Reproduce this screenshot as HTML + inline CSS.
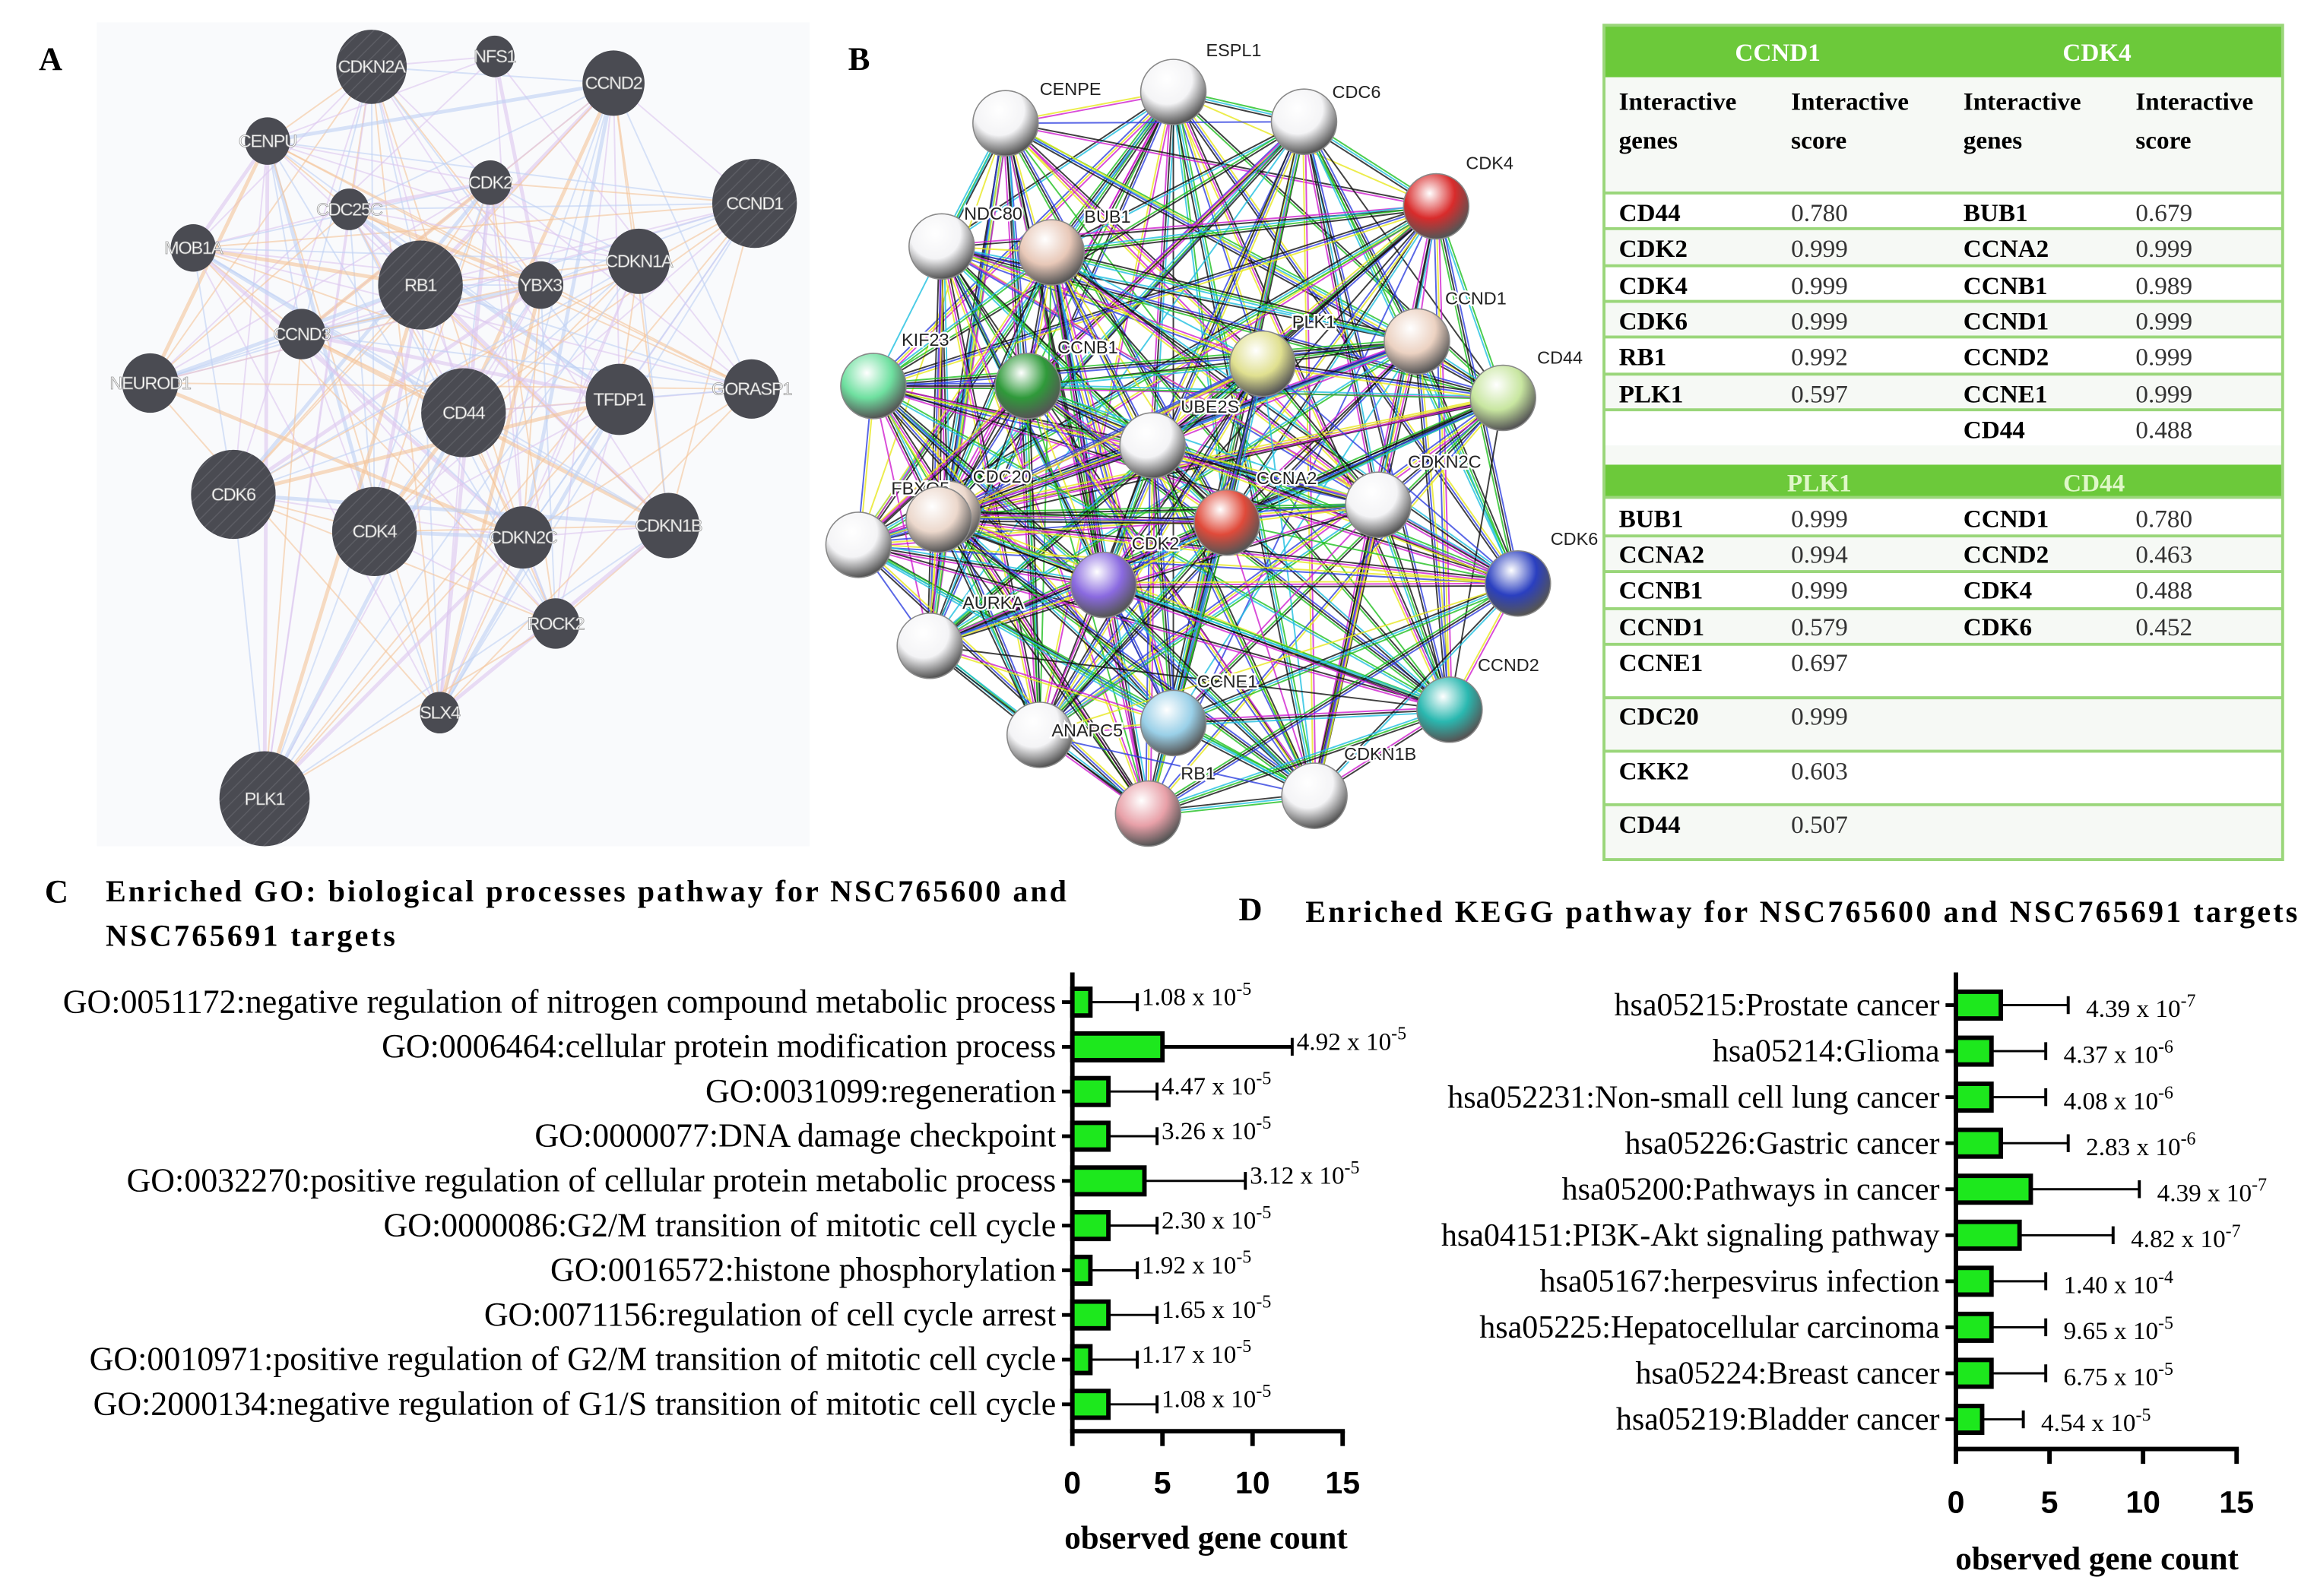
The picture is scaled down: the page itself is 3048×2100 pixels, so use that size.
<!DOCTYPE html>
<html><head><meta charset="utf-8"><style>
html,body{margin:0;padding:0;background:#fff;}
svg{display:block;}
text{font-family:"Liberation Serif",serif;}
.sans{font-family:"Liberation Sans",sans-serif;}
</style></head><body>
<svg id="fig" width="3048" height="2100" viewBox="0 0 1560 1075" xmlns="http://www.w3.org/2000/svg">
<defs>
<pattern id="hatch" width="6" height="6" patternUnits="userSpaceOnUse" patternTransform="rotate(45)"><rect width="6" height="6" fill="#4a4b52"/><line x1="0" y1="0" x2="0" y2="6" stroke="#5c5d64" stroke-width="1.5"/></pattern>
</defs>
<rect width="1560" height="1075" fill="#fff"/>

<g id="panelA">
<text x="26" y="47" font-size="22" font-weight="bold">A</text>
<rect x="65" y="15" width="480" height="555" fill="#f9fafc"/>
<g id="aEdges"></g><g id="aNodes"></g>
</g>

<g id="panelB">
<text x="571" y="47" font-size="22" font-weight="bold">B</text>
<g id="bEdges"></g><g id="bNodes"></g>
</g>

<g id="table"></g>

<g id="panelC">
<text x="30" y="608" font-size="22" font-weight="bold">C</text>
<text x="71" y="607" font-size="20.5" font-weight="bold" textLength="647" lengthAdjust="spacing">Enriched GO: biological processes pathway for NSC765600 and</text>
<text x="71" y="637" font-size="20.5" font-weight="bold" textLength="195" lengthAdjust="spacing">NSC765691 targets</text>
<g id="cChart"></g>
<text x="812" y="1043" font-size="22" font-weight="bold" text-anchor="middle">observed gene count</text>
</g>

<g id="panelD">
<text x="834" y="620" font-size="22" font-weight="bold">D</text>
<text x="879" y="621" font-size="20.5" font-weight="bold" textLength="668" lengthAdjust="spacing">Enriched KEGG pathway for NSC765600 and NSC765691 targets</text>
<g id="dChart"></g>
<text x="1412" y="1057" font-size="22" font-weight="bold" text-anchor="middle">observed gene count</text>
</g>
</svg>
<script>
// ---------- Chart C data ----------
const cCategories = ["GO:0051172:negative regulation of nitrogen compound metabolic process","GO:0006464:cellular protein modification process","GO:0031099:regeneration","GO:0000077:DNA damage checkpoint","GO:0032270:positive regulation of cellular protein metabolic process","GO:0000086:G2/M transition of mitotic cell cycle","GO:0016572:histone phosphorylation","GO:0071156:regulation of cell cycle arrest","GO:0010971:positive regulation of G2/M transition of mitotic cell cycle","GO:2000134:negative regulation of G1/S transition of mitotic cell cycle"];
const cCounts = [1, 5, 2, 2, 4, 2, 1, 2, 1, 2];
const cErrors = [2.6, 7.2, 2.7, 2.7, 5.6, 2.7, 2.6, 2.7, 2.6, 2.7];
const cPvalMant = ["1.08","4.92","4.47","3.26","3.12","2.30","1.92","1.65","1.17","1.08"];
const cPvalExp = ["-5","-5","-5","-5","-5","-5","-5","-5","-5","-5"];
const cTicks = [0, 5, 10, 15];
// ---------- Chart D data ----------
const dCategories = ["hsa05215:Prostate cancer","hsa05214:Glioma","hsa052231:Non-small cell lung cancer","hsa05226:Gastric cancer","hsa05200:Pathways in cancer","hsa04151:PI3K-Akt signaling pathway","hsa05167:herpesvirus infection","hsa05225:Hepatocellular carcinoma","hsa05224:Breast cancer","hsa05219:Bladder cancer"];
const dCounts = [2.4, 1.9, 1.9, 2.4, 4, 3.4, 1.9, 1.9, 1.9, 1.4];
const dErrors = [3.6, 2.9, 2.9, 3.6, 5.8, 5.0, 2.9, 2.9, 2.9, 2.2];
const dPvalMant = ["4.39","4.37","4.08","2.83","4.39","4.82","1.40","9.65","6.75","4.54"];
const dPvalExp = ["-7","-6","-6","-6","-7","-7","-4","-5","-5","-5"];
const dTicks = [0, 5, 10, 15];

const NS = "http://www.w3.org/2000/svg";
function mk(tag, attrs, parent){const e=document.createElementNS(NS,tag);for(const k in attrs)e.setAttribute(k,attrs[k]);if(parent)parent.appendChild(e);return e;}

function drawChart(gid, cfg){
  const g=document.getElementById(gid);
  const xs=v=>cfg.x0+(v-0)*(cfg.x15-cfg.x0)/15;
  const ys=i=>cfg.y0+i*cfg.step;
  let ax=mk('line',{x1:cfg.x0,y1:cfg.yTop,x2:cfg.x0,y2:cfg.axisY,stroke:'#000','stroke-width':3},g);
  
  
  let bx=mk('line',{x1:cfg.x0-1.5,y1:cfg.axisY,x2:xs(15)+1.5,y2:cfg.axisY,stroke:'#000','stroke-width':3},g);
  
  
  cfg.ticks.forEach(t=>{
    let tl=mk('line',{x1:xs(t),y1:cfg.axisY,x2:xs(t),y2:cfg.axisY+10,stroke:'#000','stroke-width':3},g);
    
    
    let tt=mk('text',{x:xs(t),y:cfg.axisY+cfg.tickDy,'font-size':21,'font-weight':'bold','text-anchor':'middle',class:'sans'},g);
    tt.textContent=t;
    
    
  });
  cfg.cats.forEach((c,i)=>{
    const y=ys(i);
    let yt=mk('line',{x1:cfg.x0-7,y1:y,x2:cfg.x0,y2:y,stroke:'#000','stroke-width':2.5},g);
    
    
    let lab=mk('text',{x:cfg.x0-11,y:y+7,'font-size':cfg.fs,'text-anchor':'end'},g);
    lab.textContent=c;
    
    
    const end=xs(cfg.counts[i]+cfg.errs[i]);
    let el=mk('line',{x1:xs(cfg.counts[i]),y1:y,x2:end,y2:y,stroke:'#000','stroke-width':cfg.counts[i]>=4.5?2.5:1.5},g);
    
    
    let ec=mk('line',{x1:end,y1:y-6,x2:end,y2:y+6,stroke:'#000','stroke-width':2},g);
    
    
    let b=mk('rect',{x:cfg.x0,y:y-9,width:xs(cfg.counts[i])-cfg.x0,height:18,fill:'#1de81d',stroke:'#000','stroke-width':3},g);
    
    
    let pv=mk('text',{x:end+cfg.pdx,y:y+cfg.pdy,'font-size':cfg.pfs},g);
    
    
    pv.textContent=cfg.mant[i]+' x 10';
    const sp=mk('tspan',{dy:-7,'font-size':cfg.pfs*0.72},pv); sp.textContent=cfg.exps[i];
  });
}
drawChart('cChart',{p:'c',x0:722,x15:904,yTop:655,axisY:964,y0:675,step:30.1,ticks:cTicks,tickDy:42,cats:cCategories,counts:cCounts,errs:cErrors,mant:cPvalMant,exps:cPvalExp,fs:22.5,pfs:17,pdx:3,pdy:2});
drawChart('dChart',{p:'d',x0:1317,x15:1506,yTop:655,axisY:976,y0:677,step:31.0,ticks:dTicks,tickDy:43,cats:dCategories,counts:dCounts,errs:dErrors,mant:dPvalMant,exps:dPvalExp,fs:21.5,pfs:17,pdx:12,pdy:8});

// ---------- Panel A network ----------
const aNodes=[["CDKN2A",250,45,25],["NFS1",333,38,14],["CCND2",413,56,22],["CENPU",180,95,16],["CDK2",330,123,15],["CCND1",508,137,30],["CDC25C",235,141,14],["MOB1A",130,167,16],["RB1",283,192,30],["YBX3",364,192,16],["CDKN1A",430,176,22],["CCND3",203,225,17],["NEUROD1",101,258,20],["CD44",312,278,30],["TFDP1",417,269,24],["GORASP1",506,262,20],["CDK6",157,333,30],["CDK4",252,358,30],["CDKN2C",352,362,21],["CDKN1B",450,354,22],["ROCK2",374,420,17],["SLX4",296,480,14],["PLK1",178,538,32]];
const aE=document.getElementById('aEdges'), aN=document.getElementById('aNodes');
const aCols=['#f5c59a','#ddc8f0','#c0d2f4'];
let k=0;
for(let i=0;i<aNodes.length;i++)for(let j=i+1;j<aNodes.length;j++){
  k++; if((i*7+j*3)%5===0) continue;
  if(['SLX4','ROCK2','NFS1','GORASP1','NEUROD1'].includes(aNodes[i][0])&&k%3) continue;
  const l=mk('line',{x1:aNodes[i][1],y1:aNodes[i][2],x2:aNodes[j][1],y2:aNodes[j][2],stroke:aCols[(i+j)%3],'stroke-width':((i+j)%5===0)?2.5:1,opacity:0.6},aE);
  
  
}
aNodes.forEach(n=>{
  const c=mk('ellipse',{cx:n[1],cy:n[2],rx:n[3]*0.95,ry:n[3],fill:n[3]>=25?'url(#hatch)':'#4a4b52'},aN);
  
  
  const t=mk('text',{x:n[1],y:n[2]+4,'font-size':12,'text-anchor':'middle',fill:'#fff',stroke:'#999','stroke-width':0.4,class:'sans','letter-spacing':'-0.6'},aN);
  t.textContent=n[0];
  
  
});

// ---------- Panel B network ----------
const bNodes=[["ESPL1",790,62,"#f4f4f6",812,38],["CENPE",677,83,"#f4f4f6",700,64],["CDC6",878,82,"#f4f4f6",897,66],["CDK4",967,139,"#d92b2b",987,114],["NDC80",634,166,"#f4f4f6",649,148],["BUB1",708,170,"#e8c8b8",730,150],["CCND1",954,230,"#ecd2c2",973,205],["CD44",1012,268,"#c8e6a0",1035,245],["KIF23",588,260,"#6fe0a0",607,233],["CCNB1",692,260,"#2f9a3a",712,238],["PLK1",850,245,"#e0e090",870,221],["UBE2S",776,300,"#f4f4f6",795,278],["CDKN2C",928,340,"#f4f4f6",948,315],["CDC20",638,346,"#ecd8cc",655,325],["FBXO5",578,367,"#f4f4f6",600,333],["FBX",632,350,"#ecd8cc",0,0],["CCNA2",826,352,"#e04a3a",846,326],["CDK6",1022,393,"#2a3fc0",1044,367],["CDK2",743,394,"#8a6ae0",762,370],["AURKA",626,435,"#f4f4f6",648,410],["CCND2",976,478,"#2ab8b0",995,452],["CCNE1",790,487,"#9ad0e8",806,463],["ANAPC5",700,495,"#f4f4f6",708,496],["CDKN1B",885,536,"#f4f4f6",905,512],["RB1",773,548,"#e8a0a8",795,525]];
const bE=document.getElementById('bEdges'), bN=document.getElementById('bNodes');
const bCols=['#111','#d020d0','#20c020','#e8e820','#20c0e0','#3040e0','#111'];
for(let i=0;i<bNodes.length;i++)for(let j=i+1;j<bNodes.length;j++){
  if((i*5+j*11)%6===0) continue;
  const dx=bNodes[j][1]-bNodes[i][1], dy=bNodes[j][2]-bNodes[i][2], L=Math.hypot(dx,dy), nx=-dy/L, ny=dx/L;
  const m=1+((i+j)%3);
  for(let q=0;q<m;q++){
    const off=(q-(m-1)/2)*1.6, col=bCols[(i*3+j+q*2)%bCols.length];
    const l=mk('line',{x1:bNodes[i][1]+nx*off,y1:bNodes[i][2]+ny*off,x2:bNodes[j][1]+nx*off,y2:bNodes[j][2]+ny*off,stroke:col,'stroke-width':1,opacity:0.8},bE);
    
    
  }
}
bNodes.forEach((n,i)=>{
  if(n[0]==="FBX") return;
  const gid='bg'+i;
  const gr=mk('radialGradient',{id:gid,cx:'40%',cy:'30%',r:'70%'},document.querySelector('defs'));
  mk('stop',{offset:'0','stop-color':'#ffffff'},gr);
  mk('stop',{offset:'0.55','stop-color':n[3]},gr);
  mk('stop',{offset:'1','stop-color':'#555'},gr);
  const c=mk('circle',{cx:n[1],cy:n[2],r:22,fill:'url(#'+gid+')',stroke:'#888','stroke-width':0.8},bN);
  
  
  const t=mk('text',{x:n[4],y:n[5],'font-size':12,fill:'#222',class:'sans',stroke:'#fff','stroke-width':2.5,'paint-order':'stroke'},bN);
  t.textContent=n[0];
  
  
});
(function(){const c=mk('circle',{cx:632,cy:350,r:22,fill:'url(#bg13)',stroke:'#888','stroke-width':0.8},bN);

})();

// ---------- Table ----------
const tG=document.getElementById('table');
const green='#6cc93a', lineG='#9ad67a';
function rect(x,y,w,h,f,name){const r=mk('rect',{x:x,y:y,width:w,height:h,fill:f},tG);return r;}
function txt(x,y,s,opts,name){const t=mk('text',Object.assign({x:x,y:y,'font-size':17},opts||{}),tG);t.textContent=s;return t;}
rect(1080,17,457,562,'#f6f9f5','table-background');
rect(1080,17,457,35,green,'table-header-top');
txt(1197,41,'CCND1',{fill:'#fff','font-weight':'bold','text-anchor':'middle'},'header-ccnd1');
txt(1412,41,'CDK4',{fill:'#fff','font-weight':'bold','text-anchor':'middle'},'header-cdk4');
[['Interactive',1090],['Interactive',1206],['Interactive',1322],['Interactive',1438]].forEach(a=>txt(a[1],74,a[0],{'font-weight':'bold'},'column-header'));
[['genes',1090],['score',1206],['genes',1322],['score',1438]].forEach(a=>txt(a[1],100,a[0],{'font-weight':'bold'},'column-header'));
const t1g=["CD44","CDK2","CDK4","CDK6","RB1","PLK1",""], t1s=["0.780","0.999","0.999","0.999","0.992","0.597",""];
const t2g=["BUB1","CCNA2","CCNB1","CCND1","CCND2","CCNE1","CD44"], t2s=["0.679","0.999","0.989","0.999","0.999","0.999","0.488"];
const rowsY=[143,167,192,216,240,265,289];
rowsY.forEach((y,i)=>{
  if(i%2===0) rect(1081,y-13,455,24,'#ffffff','table-row-bg');
  mk('line',{x1:1080,y1:y-13,x2:1537,y2:y-13,stroke:lineG,'stroke-width':2},tG);
  txt(1090,y+6,t1g[i],{'font-weight':'bold'},'gene-name');
  txt(1206,y+6,t1s[i],{fill:'#333'},'score');
  txt(1322,y+6,t2g[i],{'font-weight':'bold'},'gene-name');
  txt(1438,y+6,t2s[i],{fill:'#333'},'score');
});
rect(1080,313,457,22,green,'table-header-bottom');
txt(1225,331,'PLK1',{fill:'#dff7c8','font-weight':'bold','text-anchor':'middle'},'header-plk1');
txt(1410,331,'CD44',{fill:'#dff7c8','font-weight':'bold','text-anchor':'middle'},'header-cd44');
const t3g=["BUB1","CCNA2","CCNB1","CCND1","CCNE1","CDC20","CKK2","CD44"], t3s=["0.999","0.994","0.999","0.579","0.697","0.999","0.603","0.507"];
const t4g=["CCND1","CCND2","CDK4","CDK6"], t4s=["0.780","0.463","0.488","0.452"];
const r2Y=[349,373,397,422,446,482,519,555], r2Top=[335,361,385,410,434,470,506,542,579];
r2Y.forEach((y,i)=>{
  if(i%2===0) rect(1081,r2Top[i],455,r2Top[i+1]-r2Top[i],'#ffffff','table-row-bg');
  mk('line',{x1:1080,y1:r2Top[i],x2:1537,y2:r2Top[i],stroke:lineG,'stroke-width':2},tG);
  txt(1090,y+6,t3g[i],{'font-weight':'bold'},'gene-name');
  txt(1206,y+6,t3s[i],{fill:'#333'},'score');
  if(i<4){txt(1322,y+6,t4g[i],{'font-weight':'bold'},'gene-name');txt(1438,y+6,t4s[i],{fill:'#333'},'score');}
});
mk('rect',{x:1080,y:17,width:457,height:562,fill:'none',stroke:lineG,'stroke-width':2},tG);
</script>
</body></html>
